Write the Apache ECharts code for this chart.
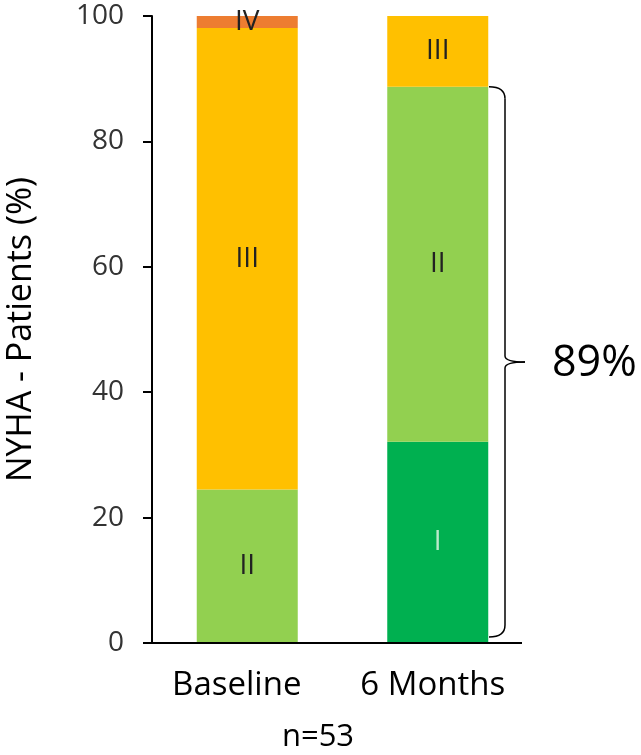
<!DOCTYPE html>
<html>
<head>
<meta charset="utf-8">
<script src="https://cdn.jsdelivr.net/npm/echarts@6/dist/echarts.min.js"></script>
<style>
html,body{margin:0;padding:0;background:#fff;}
#chart{width:641px;height:755px;}
</style>
</head>
<body>
<div id="chart"></div>
<script>
// Data
const categories = ['Baseline', '6 Months'];
const classI   = [null, 32.1];
const classII  = [24.5, 56.6];
const classIII = [73.6, 11.3];
const classIV  = [1.9, null];
const yTicks = [0, 20, 40, 60, 80, 100];
const bracketLabel = '89%';
const sampleLabel = 'n=53';

const FONT = '"Open Sans", "Noto Sans", sans-serif';
const chart = echarts.init(document.getElementById('chart'), null, {renderer: 'canvas'});

function mkSeries(name, data, color, labelColor) {
  return {
    name: name, type: 'bar', stack: 'total', data: data, barWidth: 101,
    itemStyle: {color: color},
    label: {
      show: true, position: 'inside', formatter: name,
      fontFamily: FONT, fontSize: 28, color: labelColor
    },
    emphasis: {disabled: true},
    animation: false
  };
}

const option = {
  animation: false,
  backgroundColor: '#ffffff',
  grid: {left: 152, top: 16, width: 381, bottom: 112, containLabel: false, outerBoundsMode: 'none'},
  xAxis: {
    type: 'category', data: categories,
    axisLine: {show: false},
    axisTick: {show: false},
    axisLabel: {
      interval: 0, hideOverlap: false,
      fontFamily: FONT, fontSize: 33, color: '#000', margin: 26,
      formatter: function (v, i) { return i === 0 ? '{a|' + v + '}' : '{b|' + v + '}'; },
      rich: {
        a: {fontFamily: FONT, fontSize: 33, color: '#000', padding: [0, 21, 0, 0]},
        b: {fontFamily: FONT, fontSize: 33, color: '#000', padding: [0, 10, 0, 0]}
      }
    }
  },
  yAxis: {
    type: 'value', min: yTicks[0], max: yTicks[yTicks.length - 1], interval: 20,
    name: 'NYHA - Patients (%)', nameLocation: 'middle', nameGap: 114,
    nameTextStyle: {fontFamily: FONT, fontSize: 34, color: '#000'},
    axisLine: {show: true, lineStyle: {color: '#000', width: 2}},
    axisTick: {show: true, length: 9, inside: false, lineStyle: {color: '#000', width: 2}},
    axisLabel: {fontFamily: FONT, fontSize: 28, color: '#333', margin: 28},
    splitLine: {show: false}
  },
  series: [
    mkSeries('I', classI, '#00B050', 'rgba(220,245,225,0.85)'),
    mkSeries('II', classII, '#92D050', '#222'),
    mkSeries('III', classIII, '#FFC000', '#222'),
    mkSeries('IV', classIV, '#ED7D31', '#222')
  ]
};
chart.setOption(option);

// decorations computed from the axes
const y0 = chart.convertToPixel({yAxisIndex: 0}, 0);
const xLeft = 143, xRight = 522;
const topVal = (classI[1] || 0) + (classII[1] || 0);
const yTop = chart.convertToPixel({yAxisIndex: 0}, topVal);
const yBot = y0 - 6;
const yMid = (yTop + yBot) / 2;
const bx = 505, bl = 489, tip = 525;
const st = {stroke: '#000', lineWidth: 1.5, fill: null};

chart.setOption({
  graphic: [
    {type: 'line', shape: {x1: xLeft, y1: y0, x2: xRight, y2: y0},
     style: {stroke: '#000', lineWidth: 2}, z: 10},
    // brace
    {type: 'bezierCurve', shape: {x1: bl, y1: yTop, x2: bx, y2: yTop + 12, cpx1: bx, cpy1: yTop}, style: st, z: 10},
    {type: 'line', shape: {x1: bx, y1: yTop + 12, x2: bx, y2: yMid - 6}, style: st, z: 10},
    {type: 'bezierCurve', shape: {x1: bx, y1: yMid - 6, x2: tip, y2: yMid, cpx1: bx, cpy1: yMid}, style: st, z: 10},
    {type: 'bezierCurve', shape: {x1: tip, y1: yMid, x2: bx, y2: yMid + 6, cpx1: bx, cpy1: yMid}, style: st, z: 10},
    {type: 'line', shape: {x1: bx, y1: yMid + 6, x2: bx, y2: yBot - 12}, style: st, z: 10},
    {type: 'bezierCurve', shape: {x1: bx, y1: yBot - 12, x2: bl, y2: yBot, cpx1: bx, cpy1: yBot}, style: st, z: 10},
    {type: 'text', x: 552, y: yMid + 2,
     style: {text: bracketLabel, fontFamily: FONT, fontSize: 43, fill: '#000', align: 'left', verticalAlign: 'middle'}},
    {type: 'text', x: 318, y: 722,
     style: {text: sampleLabel, fontFamily: FONT, fontSize: 31, fill: '#000', align: 'center', verticalAlign: 'top'}}
  ]
});
</script>
</body>
</html>
